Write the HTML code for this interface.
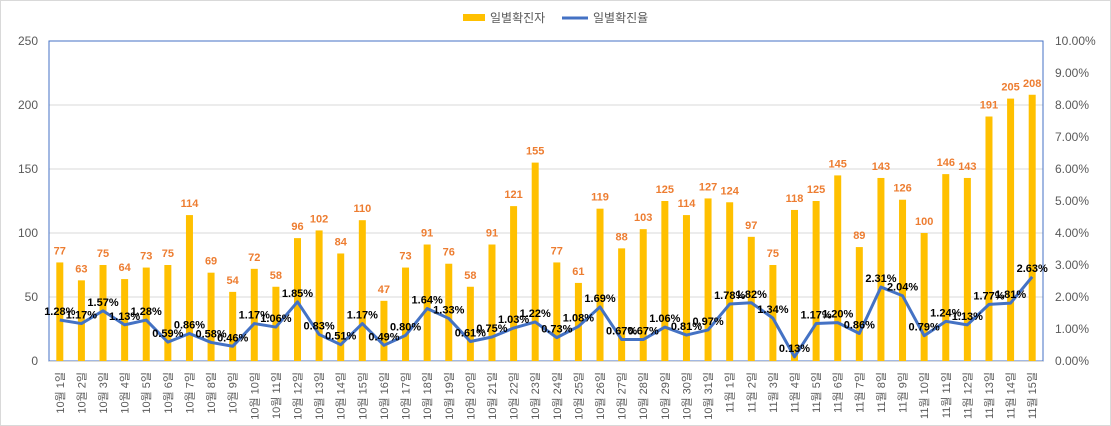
<!DOCTYPE html>
<html><head><meta charset="utf-8"><style>
body{margin:0;background:#fff}
svg{display:block;font-family:"Liberation Sans","Noto Sans CJK KR",sans-serif}
</style></head><body>
<svg id="c" width="1111" height="426">
<rect x="0.5" y="0.5" width="1110" height="425" fill="#fff" stroke="#d9d9d9"/>
<g>
<rect x="463" y="14" width="22" height="7" fill="#FFC000"/>
<text x="490" y="22" font-size="12" fill="#595959">일별확진자</text>
<line x1="562" y1="18" x2="588" y2="18" stroke="#4472C4" stroke-width="3"/>
<text x="593" y="22" font-size="12" fill="#595959">일별확진율</text>
</g>
</svg>
<script>
const days=['10월 1일','10월 2일','10월 3일','10월 4일','10월 5일','10월 6일','10월 7일','10월 8일','10월 9일','10월 10일','10월 11일','10월 12일','10월 13일','10월 14일','10월 15일','10월 16일','10월 17일','10월 18일','10월 19일','10월 20일','10월 21일','10월 22일','10월 23일','10월 24일','10월 25일','10월 26일','10월 27일','10월 28일','10월 29일','10월 30일','10월 31일','11월 1일','11월 2일','11월 3일','11월 4일','11월 5일','11월 6일','11월 7일','11월 8일','11월 9일','11월 10일','11월 11일','11월 12일','11월 13일','11월 14일','11월 15일'];
const cases=[77,63,75,64,73,75,114,69,54,72,58,96,102,84,110,47,73,91,76,58,91,121,155,77,61,119,88,103,125,114,127,124,97,75,118,125,145,89,143,126,100,146,143,191,205,208];
const rates=[1.28,1.17,1.57,1.13,1.28,0.59,0.86,0.58,0.46,1.17,1.06,1.85,0.83,0.51,1.17,0.49,0.80,1.64,1.33,0.61,0.75,1.03,1.22,0.73,1.08,1.69,0.67,0.67,1.06,0.81,0.97,1.78,1.82,1.34,0.13,1.17,1.20,0.86,2.31,2.04,0.79,1.24,1.13,1.77,1.81,2.63];
const leftTicks=[0,50,100,150,200,250];
const rightTicks=[0,1,2,3,4,5,6,7,8,9,10];
const svg=document.getElementById('c');const NS='http://www.w3.org/2000/svg';
const L=49,R=1043,T=41,B=361;
const bw=(R-L)/days.length;
const xc=i=>L+bw*(i+0.5);
const yL=v=>B-(v/250)*(B-T);
const yR=v=>B-(v/10)*(B-T);
function mk(t,a,txt){const e=document.createElementNS(NS,t);for(const k in a)e.setAttribute(k,a[k]);if(txt!==undefined)e.textContent=txt;svg.appendChild(e);return e;}
leftTicks.forEach(v=>{
 if(v>0&&v<250){const g=mk('line',{x1:L,x2:R,y1:yL(v),y2:yL(v),stroke:'#d9d9d9'});
 
 }
 const t=mk('text',{x:38,y:yL(v)+4,'font-size':12,fill:'#595959','text-anchor':'end'},v);
 
 
});
rightTicks.forEach(v=>{
 const t=mk('text',{x:1055,y:yR(v)+4,'font-size':12,fill:'#595959'},v.toFixed(2)+'%');
 
 
});
const fr=mk('rect',{x:L,y:T,width:R-L,height:B-T,fill:'none',stroke:'#4472C4','stroke-width':1});


cases.forEach((v,i)=>{
 const b=mk('rect',{x:xc(i)-3.5,y:yL(v),width:7,height:B-yL(v),fill:'#FFC000'});
 
 
});
const ax=mk('line',{x1:L,x2:R,y1:B+0.5,y2:B+0.5,stroke:'#d9d9d9'});


const p=mk('polyline',{points:rates.map((v,i)=>xc(i)+','+yR(v)).join(' '),fill:'none',stroke:'#4472C4','stroke-width':3,'stroke-linejoin':'round'});


cases.forEach((v,i)=>{
 const t=mk('text',{x:xc(i),y:yL(v)-8,'font-size':11,'font-weight':'bold',fill:'#ED7D31','text-anchor':'middle'},v);
 
 
});
rates.forEach((v,i)=>{
 const t=mk('text',{x:xc(i),y:yR(v)-5,'font-size':11,'font-weight':'bold',fill:'#000','text-anchor':'middle'},v.toFixed(2)+'%');
 
 
});
days.forEach((d,i)=>{
 const x=xc(i)+4,y=372;
 const t=mk('text',{x:x,y:y,'font-size':11,fill:'#595959','text-anchor':'end',transform:`rotate(-90 ${x} ${y})`},d);
 
 
});
</script>
</body></html>
